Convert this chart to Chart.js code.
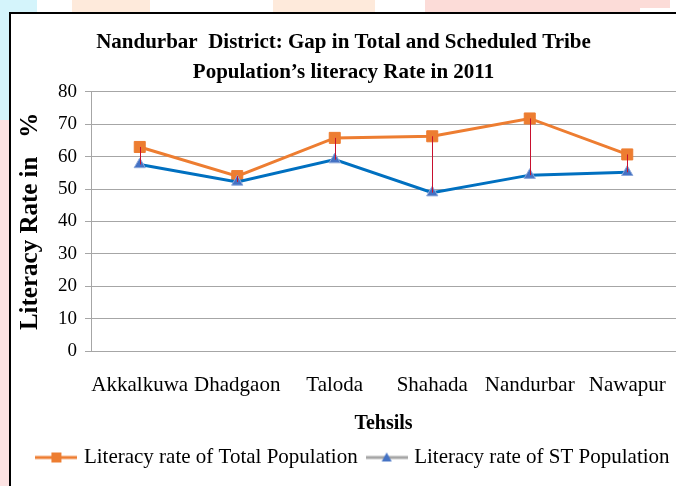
<!DOCTYPE html>
<html>
<head>
<meta charset="utf-8">
<script src="https://cdn.jsdelivr.net/npm/chart.js@4.4.1/dist/chart.umd.min.js"></script>
<style>
  html, body { margin: 0; padding: 0; background: #ffffff; width: 676px; height: 486px; overflow: hidden; position: relative; }
  .bg { position: absolute; }
  #frame { position: absolute; left: 9px; top: 12px; width: 667px; height: 474px; border-left: 2px solid #000; border-top: 2px solid #000; background: #fff; box-sizing: border-box; }
  #wrap { position: absolute; left: 0; top: 0; width: 665px; height: 472px; }
</style>
</head>
<body>
<div class="bg" style="left:0;top:0;width:37px;height:12px;background:#d4f4fb;"></div>
<div class="bg" style="left:0;top:0;width:9px;height:120px;background:#d4f4fb;"></div>
<div class="bg" style="left:0;top:120px;width:9px;height:366px;background:#fde3e3;"></div>
<div class="bg" style="left:72px;top:0;width:78px;height:12px;background:#feeadb;"></div>
<div class="bg" style="left:273px;top:0;width:102px;height:12px;background:#feeadb;"></div>
<div class="bg" style="left:425px;top:0;width:215px;height:12px;background:#fcdcd8;"></div>
<div class="bg" style="left:640px;top:0;width:30px;height:8px;background:#fcdcd8;"></div>
<div id="frame"><div id="wrap"><canvas id="c" width="665" height="472"></canvas></div></div>
<script>
// ---- data ----
const categories = ['Akkalkuwa', 'Dhadgaon', 'Taloda', 'Shahada', 'Nandurbar', 'Nawapur'];
const totalRate = [63.0, 54.0, 65.8, 66.3, 71.8, 60.7];
const stRate = [57.6, 52.2, 59.1, 48.9, 54.3, 55.2];
const yTicks = [0, 10, 20, 30, 40, 50, 60, 70, 80];
const seriesLabels = ['Literacy rate of Total Population', 'Literacy rate of ST Population'];
const titleLines = ['Nandurbar  District: Gap in Total and Scheduled Tribe', 'Population\u2019s literacy Rate in 2011'];
const xTitle = 'Tehsils';
const yTitle = 'Literacy Rate in   %';

const FONT = '"Liberation Serif", "Times New Roman", serif';
const ORANGE = '#ED7D31';
const BLUE = '#0070C0';
const TRI = '#4472C4';
const GRID = '#a6a6a6';

function legendIcon(lineColor, kind, fill) {
  const cv = document.createElement('canvas');
  cv.width = 42; cv.height = 14;
  const g = cv.getContext('2d');
  g.strokeStyle = lineColor; g.lineWidth = 3;
  g.beginPath(); g.moveTo(0, 7); g.lineTo(42, 7); g.stroke();
  g.fillStyle = fill;
  if (kind === 'rect') {
    g.fillRect(16, 2, 10, 10);
  } else {
    g.beginPath(); g.moveTo(21, 2); g.lineTo(26, 11); g.lineTo(16, 11); g.closePath(); g.fill();
  }
  return cv;
}
const iconTotal = legendIcon(ORANGE, 'rect', ORANGE);
const iconST = legendIcon('#a5a5a5', 'tri', TRI);

const dropLines = {
  id: 'dropLines',
  afterLayout(chart) {
    if (chart.legend) { chart.legend.left += 11; chart.legend.right += 11; }
  },
  afterDatasetsDraw(chart) {
    const ctx = chart.ctx;
    const x = chart.scales.x, y = chart.scales.y;
    ctx.save();
    ctx.strokeStyle = '#C8102E';
    ctx.lineWidth = 1;
    for (let i = 0; i < categories.length; i++) {
      const px = Math.round(x.getPixelForValue(i)) + 0.5;
      ctx.beginPath();
      ctx.moveTo(px, y.getPixelForValue(totalRate[i]));
      ctx.lineTo(px, y.getPixelForValue(stRate[i]));
      ctx.stroke();
    }
    ctx.restore();
  }
};

new Chart(document.getElementById('c'), {
  type: 'line',
  data: {
    labels: categories,
    datasets: [
      { label: seriesLabels[0], data: totalRate, order: 2, borderColor: ORANGE, backgroundColor: ORANGE, borderWidth: 3,
        pointStyle: 'rect', pointRadius: 7.8, pointBackgroundColor: ORANGE, pointBorderColor: ORANGE, pointBorderWidth: 1, tension: 0 },
      { label: seriesLabels[1], data: stRate, order: 1, borderColor: BLUE, backgroundColor: TRI, borderWidth: 3,
        pointStyle: 'triangle', pointRadius: 6.5, pointBackgroundColor: TRI, pointBorderColor: '#8ea9db', pointBorderWidth: 1, tension: 0 }
    ]
  },
  options: {
    responsive: false,
    animation: false,
    devicePixelRatio: 1,
    layout: { autoPadding: false, padding: { left: 0, right: 0, top: 0, bottom: 8 } },
    plugins: {
      title: { display: true, text: titleLines, color: '#000', font: { family: FONT, size: 21, weight: 'bold', lineHeight: 1.45 }, padding: { top: 13, bottom: 4 } },
      legend: {
        position: 'bottom',
        labels: {
          color: '#000', font: { family: FONT, size: 21 }, usePointStyle: true, pointStyleWidth: 34, padding: 12,
          generateLabels(chart) {
            return chart.data.datasets.map((d, i) => ({ text: d.label, pointStyle: i === 0 ? iconTotal : iconST, datasetIndex: i, hidden: false, fontColor: '#000', lineWidth: 0 }));
          }
        }
      },
      tooltip: { enabled: false }
    },
    scales: {
      x: {
        offset: true,
        afterFit(scale) { scale.height = 84; scale.paddingLeft = 0; scale.paddingRight = 0; },
        grid: { display: false, drawTicks: false },
        border: { display: true, color: GRID, width: 1 },
        ticks: { color: '#000', font: { family: FONT, size: 21 }, padding: 22, maxRotation: 0, autoSkip: false },
        title: { display: true, text: xTitle, color: '#000', font: { family: FONT, size: 20, weight: 'bold', lineHeight: 1.1 }, padding: { top: 0, bottom: 0 } }
      },
      y: {
        min: 0, max: 80,
        afterBuildTicks(scale) { scale.ticks = yTicks.map(v => ({ value: v })); },
        afterFit(scale) { scale.width = 80; },
        grid: { color: GRID, lineWidth: 1, tickLength: 6, drawTicks: true },
        border: { display: true, color: GRID, width: 1 },
        ticks: { color: '#000', font: { family: FONT, size: 19 }, padding: 8 },
        title: { display: true, text: yTitle, color: '#000', font: { family: FONT, size: 25, weight: 'bold', lineHeight: 1.2 }, padding: { top: 5, bottom: 0 } }
      }
    }
  },
  plugins: [dropLines]
});
</script>
</body>
</html>
